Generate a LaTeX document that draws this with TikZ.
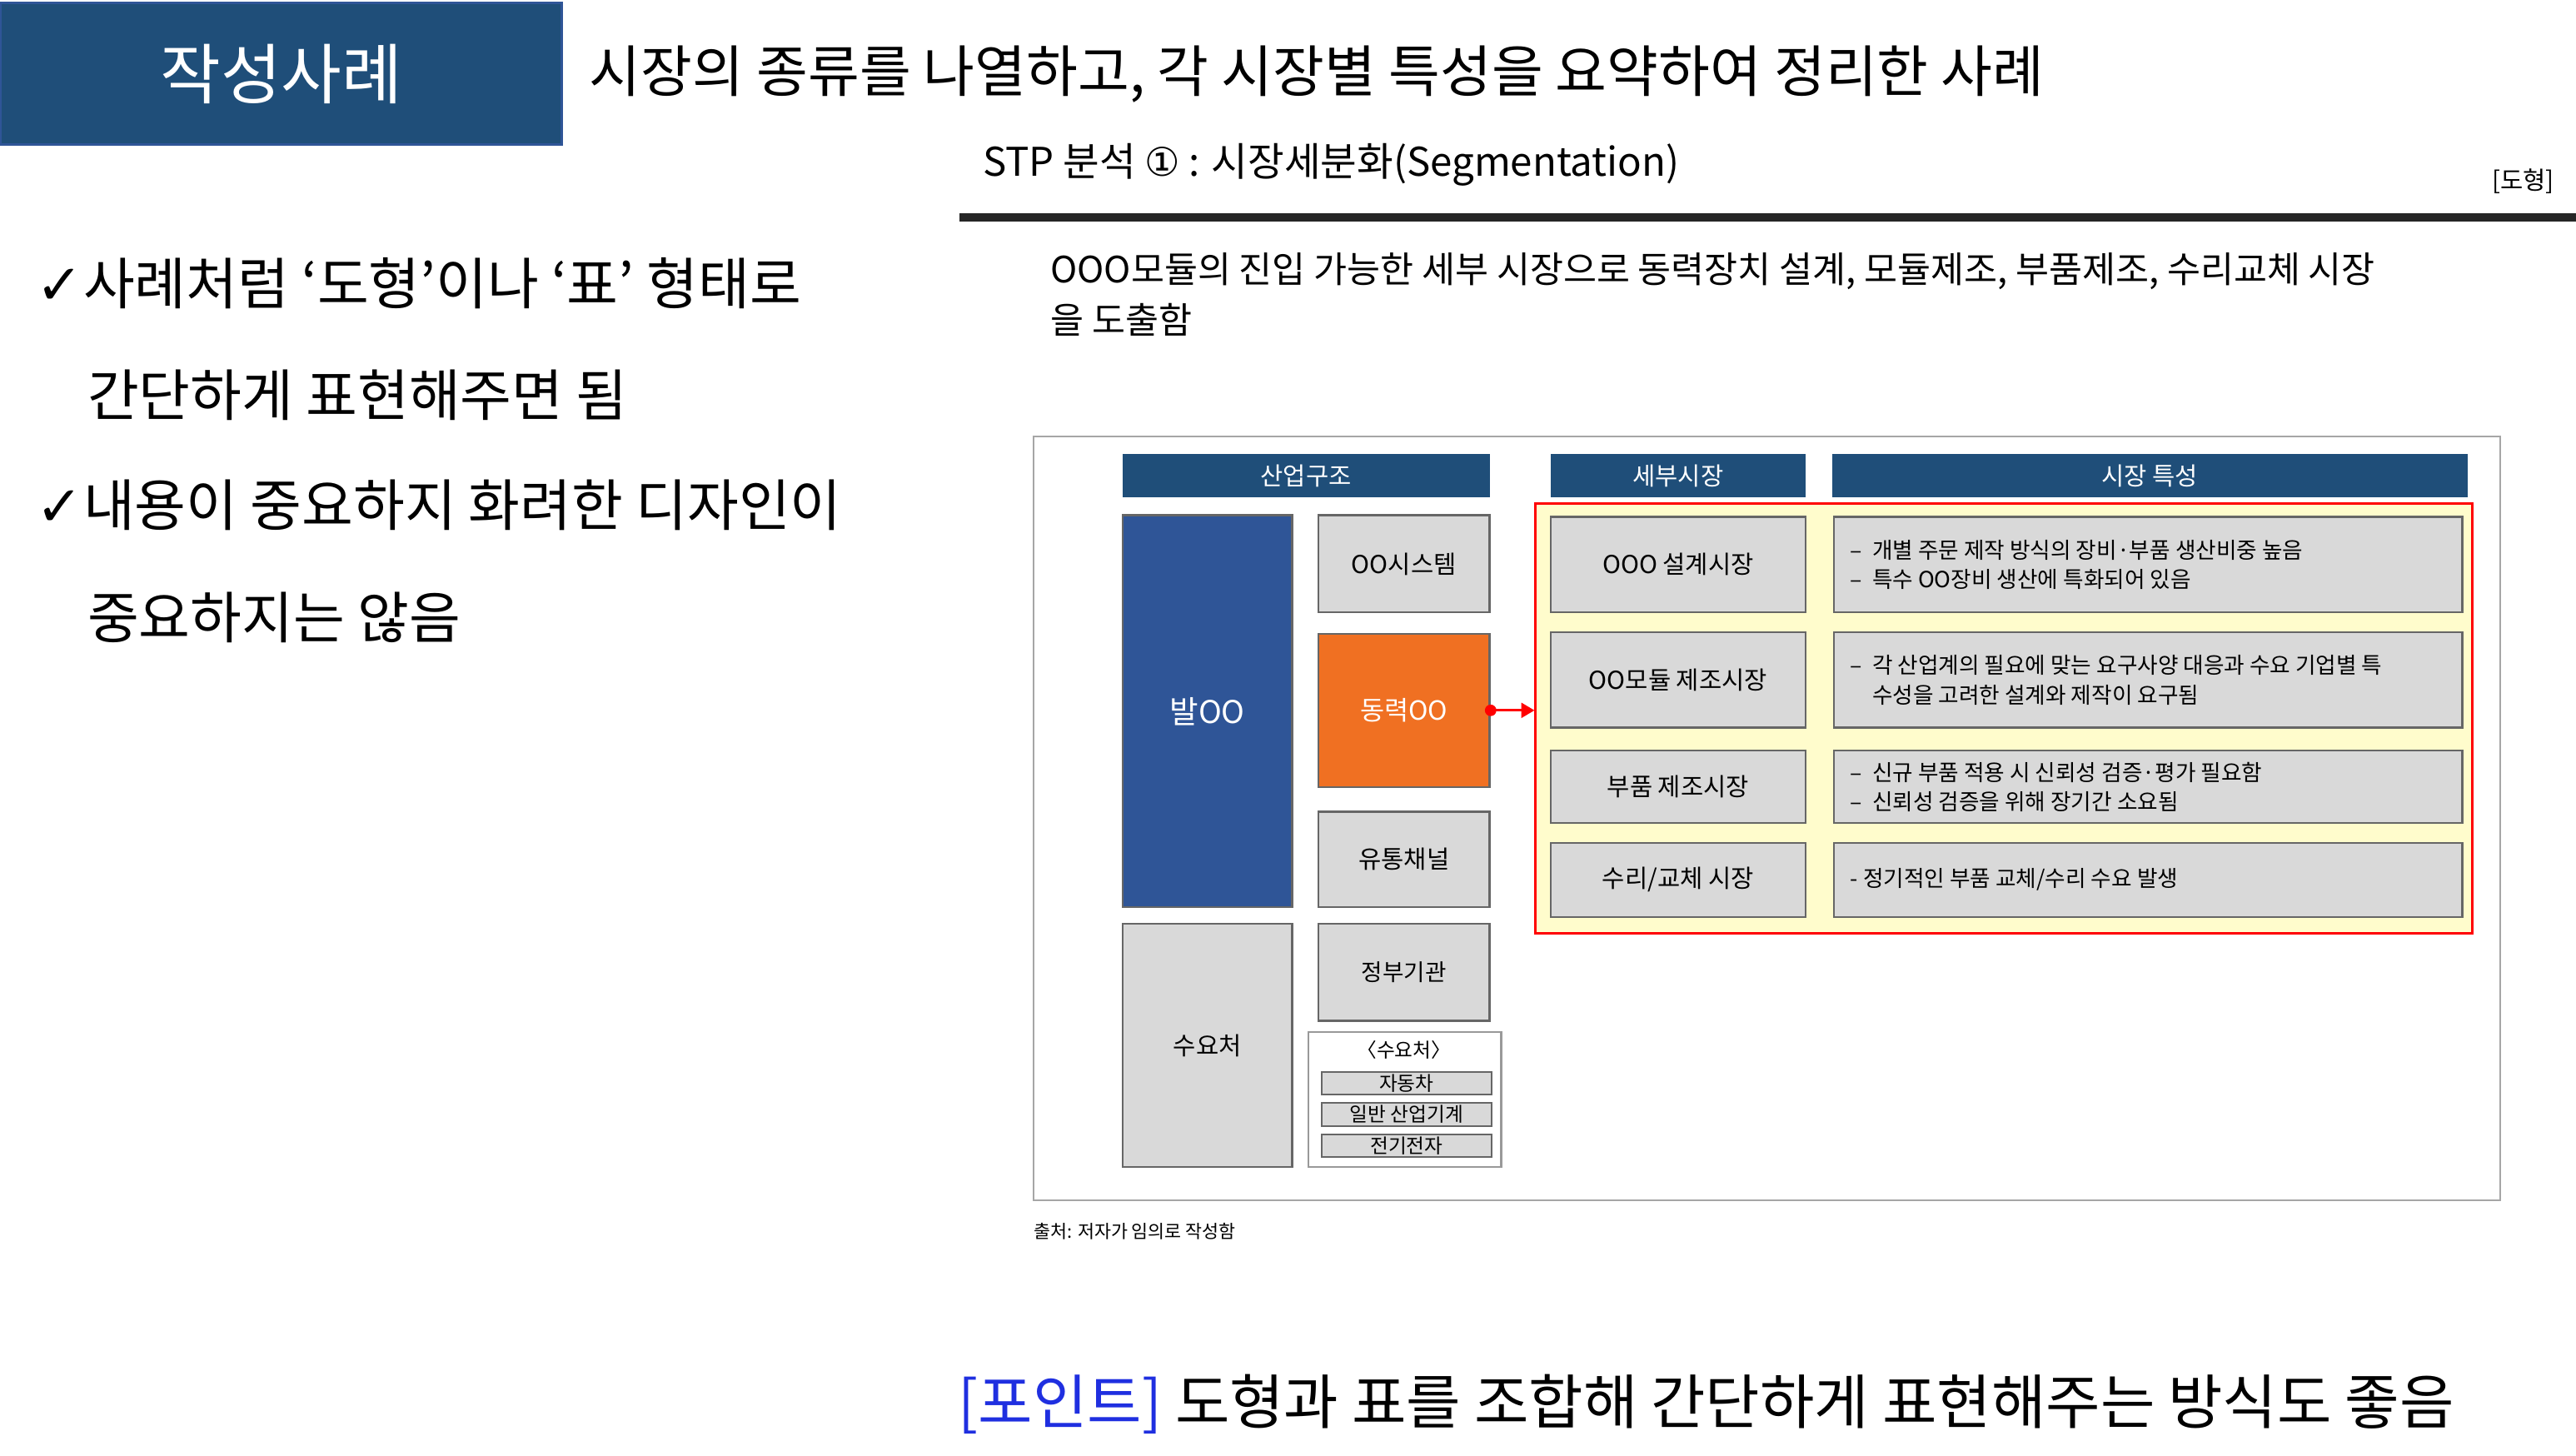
\documentclass[tikz,border=0pt]{standalone}
\usepackage{fontspec}
\setmainfont{Noto Sans CJK KR}
\newfontfamily\djv{DejaVu Sans}
\usetikzlibrary{arrows.meta}
\definecolor{hdr}{HTML}{1F4E79}
\definecolor{bal}{HTML}{2F5597}
\definecolor{cellg}{HTML}{D9D9D9}
\definecolor{org}{HTML}{F07022}
\definecolor{ptblue}{HTML}{1F2FE0}
\tikzset{
 hbox/.style={fill=hdr,text=white,font=\fontsize{15}{18}\selectfont},
 cell/.style={fill=cellg,draw=gray!80!black,line width=1.2pt,font=\fontsize{15}{18}\selectfont},
 txt/.style={anchor=west,inner sep=0pt},
}
\newcommand{\rbox}[6]{\node[#1,minimum width=#4-#2,minimum height=#5-#3,inner sep=0pt] (#6) at ({(#2+#4)/2},{(#3+#5)/2}) {};}
\begin{document}
\begin{tikzpicture}[x=1pt,y=-1pt]
\useasboundingbox (0,0) rectangle (1565,884);
% header
\node[fill=hdr,draw=bal,line width=1.5pt,minimum width=341,minimum height=86,text=white,font=\fontsize{40}{44}\selectfont] (hd) at (171,45) {작성사례};
\node[txt,font=\fontsize{34}{38}\selectfont] (ttl) at (358,45) {시장의 종류를 나열하고, 각 시장별 특성을 요약하여 정리한 사례};
\node[txt,font=\fontsize{24}{28}\selectfont] (stp) at (597,100) {STP 분석 {\djv ①} : 시장세분화(Segmentation)};
\node[anchor=east,inner sep=0pt,font=\fontsize{15}{18}\selectfont] (dh) at (1552,110) {[도형]};
\draw[line width=5pt,color=black!85] (583,132) -- (1565,132);
% left bullets
\node[txt,font=\fontsize{34}{38}\selectfont] (b1) at (22,172) {{\djv ✓}사례처럼 ‘도형’이나 ‘표’ 형태로};
\node[txt,font=\fontsize{34}{38}\selectfont] (b1b) at (53,240) {간단하게 표현해주면 됨};
\node[txt,font=\fontsize{34}{38}\selectfont] (b2) at (22,307) {{\djv ✓}내용이 중요하지 화려한 디자인이};
\node[txt,font=\fontsize{34}{38}\selectfont] (b2b) at (53,375) {중요하지는 않음};
% description
\node[txt,font=\fontsize{22}{26}\selectfont] (d1) at (638,165) {OOO모듈의 진입 가능한 세부 시장으로 동력장치 설계, 모듈제조, 부품제조, 수리교체 시장};
\node[txt,font=\fontsize{22}{26}\selectfont] (d2) at (638,194) {을 도출함};
% frame
\draw[gray!70,line width=1pt] (628,265) rectangle (1519,729);
\rbox{hbox}{682}{276}{905}{302}{h1}\node[text=white,font=\fontsize{15}{18}\selectfont] at (h1) {산업구조};
\rbox{hbox}{942}{276}{1097}{302}{h2}\node[text=white,font=\fontsize{15}{18}\selectfont] at (h2) {세부시장};
\rbox{hbox}{1113}{276}{1499}{302}{h3}\node[text=white,font=\fontsize{15}{18}\selectfont] at (h3) {시장 특성};
\rbox{cell,fill=bal}{682}{313}{785}{551}{bal}\node[text=white,font=\fontsize{19}{22}\selectfont] at (bal) {발OO};
\rbox{cell}{682}{561}{785}{709}{sy}\node[font=\fontsize{15}{18}\selectfont] at (sy) {수요처};
\rbox{cell}{801}{313}{905}{372}{c1}\node[font=\fontsize{15}{18}\selectfont] at (c1) {OO시스템};
\rbox{cell,fill=org}{801}{385}{905}{478}{c2}\node[text=white,font=\fontsize{16}{18}\selectfont] at (c2) {동력OO};
\rbox{cell}{801}{493}{905}{551}{c3}\node[font=\fontsize{15}{18}\selectfont] at (c3) {유통채널};
\rbox{cell}{801}{561}{905}{620}{c4}\node[font=\fontsize{14}{18}\selectfont] at (c4) {정부기관};
\rbox{draw=gray!80,line width=1.2pt,fill=white}{795}{627}{912}{709}{sb}
\node[font=\fontsize{12}{14}\selectfont] (sbt) at (853,638) {〈수요처〉};
\rbox{cell,line width=1pt}{803}{651}{906}{665}{s1}\node[font=\fontsize{12}{14}\selectfont] at (s1) {자동차};
\rbox{cell,line width=1pt}{803}{670}{906}{684}{s2}\node[font=\fontsize{12}{14}\selectfont] at (s2) {일반 산업기계};
\rbox{cell,line width=1pt}{803}{689}{906}{703}{s3}\node[font=\fontsize{12}{14}\selectfont] at (s3) {전기전자};
% red frame
\rbox{draw=red,fill=yellow!20,line width=1.5pt}{933}{306}{1502}{567}{rf}
\rbox{cell}{942}{314}{1097}{372}{m1}\node[font=\fontsize{15}{18}\selectfont] at (m1) {OOO 설계시장};
\rbox{cell}{942}{384}{1097}{442}{m2}\node[font=\fontsize{15}{18}\selectfont] at (m2) {OO모듈 제조시장};
\rbox{cell}{942}{456}{1097}{500}{m3}\node[font=\fontsize{15}{18}\selectfont] at (m3) {부품 제조시장};
\rbox{cell}{942}{512}{1097}{557}{m4}\node[font=\fontsize{15}{18}\selectfont] at (m4) {수리/교체 시장};
\rbox{cell}{1114}{314}{1496}{372}{k1}
\node[txt,font=\fontsize{13.5}{18}\selectfont,align=left] at (1124,343) {–\ \ 개별 주문 제작 방식의 장비·부품 생산비중 높음\\–\ \ 특수 OO장비 생산에 특화되어 있음};
\rbox{cell}{1114}{384}{1496}{442}{k2}
\node[txt,font=\fontsize{13.5}{18}\selectfont,align=left] at (1124,413) {–\ \ 각 산업계의 필요에 맞는 요구사양 대응과 수요 기업별 특\\\phantom{–\ \ }수성을 고려한 설계와 제작이 요구됨};
\rbox{cell}{1114}{456}{1496}{500}{k3}
\node[txt,font=\fontsize{13.5}{18}\selectfont,align=left] at (1124,478) {–\ \ 신규 부품 적용 시 신뢰성 검증·평가 필요함\\–\ \ 신뢰성 검증을 위해 장기간 소요됨};
\rbox{cell}{1114}{512}{1496}{557}{k4}
\node[txt,font=\fontsize{13.5}{18}\selectfont] at (1124,534) {- 정기적인 부품 교체/수리 수요 발생};
% arrow
\coordinate (ae) at (rf.west |- c2.east);
\fill[red] (c2.east) circle (3.5);
\draw[red,line width=1.5pt,-{Triangle[length=8pt,width=9pt]}] (c2.east) -- (ae);
% source & point
\node[txt,font=\fontsize{11}{13}\selectfont] (src) at (628,748) {출처: 저자가 임의로 작성함};
\node[txt,font=\fontsize{36}{40}\selectfont] (pt) at (582,853) {\textcolor{ptblue}{[포인트]} 도형과 표를 조합해 간단하게 표현해주는 방식도 좋음};
\end{tikzpicture}
\end{document}
